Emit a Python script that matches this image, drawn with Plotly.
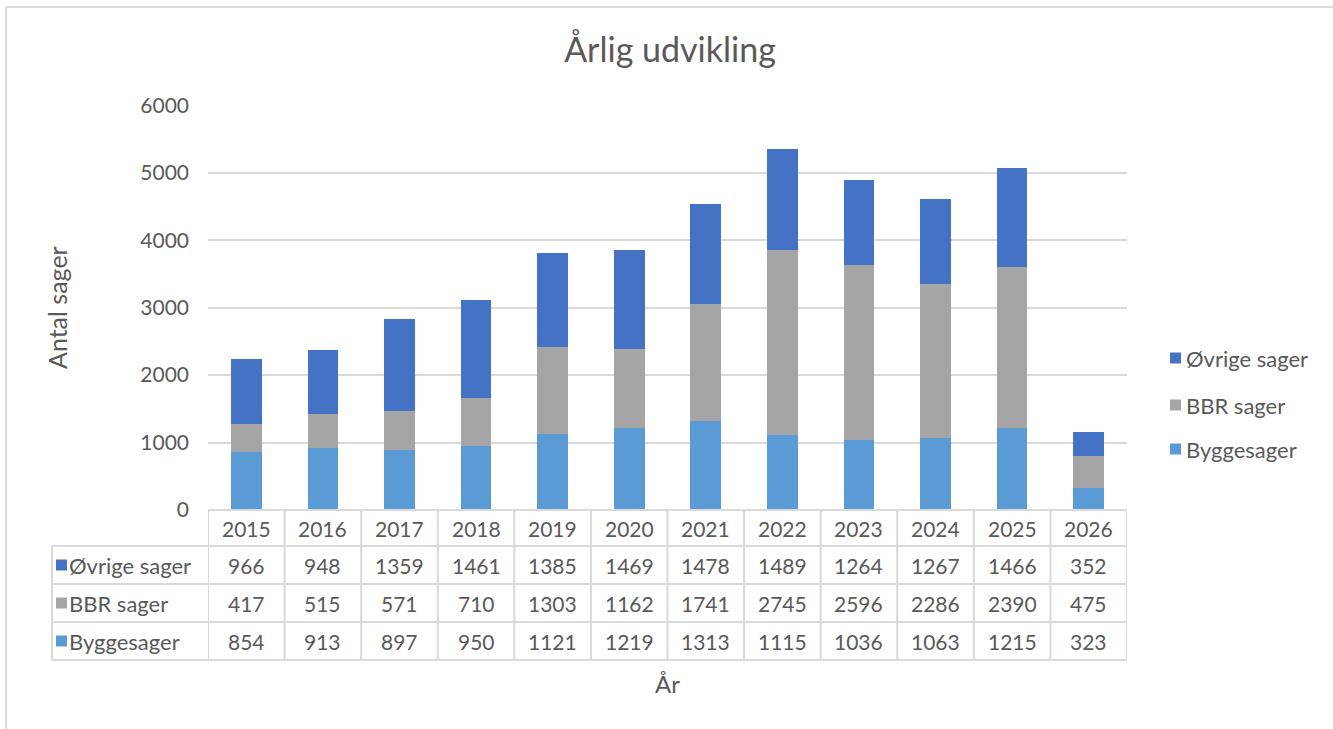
import plotly.graph_objects as go

years = ["2015", "2016", "2017", "2018", "2019", "2020", "2021", "2022", "2023", "2024", "2025", "2026"]
byggesager = [854, 913, 897, 950, 1121, 1219, 1313, 1115, 1036, 1063, 1215, 323]
bbr_sager = [417, 515, 571, 710, 1303, 1162, 1741, 2745, 2596, 2286, 2390, 475]
ovrige_sager = [966, 948, 1359, 1461, 1385, 1469, 1478, 1489, 1264, 1267, 1466, 352]

series = [
    ("Byggesager", byggesager, "#5B9BD5"),
    ("BBR sager", bbr_sager, "#A5A5A5"),
    ("Øvrige sager", ovrige_sager, "#4472C4"),
]

W, H = 1333, 729
L, R, T, B = 208, 1127, 105, 510
pw, ph = R - L, B - T
FONT = "Lato"
TXT = "#595959"
GRID = "#D9D9D9"

def px(x):
    return (x - L) / pw

def py(y):
    return (B - y) / ph

fig = go.Figure()
for name, vals, col in series:
    fig.add_trace(go.Bar(x=years, y=vals, name=name, marker_color=col,
                         marker_line_width=0, showlegend=False))

shapes = []
annotations = []
n = len(years)
row_edges = [510, 546, 584, 622, 660]
line = dict(color=GRID, width=2)
shapes.append(dict(type="line", xref="paper", yref="paper", x0=0, x1=1, y0=py(510), y1=py(510), line=line))
for ye in row_edges[1:]:
    shapes.append(dict(type="line", xref="paper", yref="paper", x0=px(52), x1=1, y0=py(ye), y1=py(ye), line=line))
for k in range(n + 1):
    shapes.append(dict(type="line", xref="x", yref="paper", x0=k - 0.5, x1=k - 0.5,
                       y0=py(510), y1=py(660), line=line))
shapes.append(dict(type="line", xref="paper", yref="paper", x0=px(52), x1=px(52),
                   y0=py(546), y1=py(660), line=line))

NUM = 21
for i, yr in enumerate(years):
    annotations.append(dict(x=i, xref="x", y=py(528), yref="paper", text=yr, showarrow=False,
                            xanchor="center", yanchor="middle",
                            font=dict(family=FONT, size=NUM, color=TXT)))
table_rows = [("Øvrige sager", ovrige_sager, "#4472C4", 565),
              ("BBR sager", bbr_sager, "#A5A5A5", 603),
              ("Byggesager", byggesager, "#5B9BD5", 641)]
for name, vals, col, yc in table_rows:
    shapes.append(dict(type="rect", xref="paper", yref="paper", x0=px(56), x1=px(67),
                       y0=py(yc + 5.5), y1=py(yc - 5.5), fillcolor=col, line_width=0))
    annotations.append(dict(x=px(67), xref="paper", y=py(yc), yref="paper", text=name,
                            xanchor="left", yanchor="middle", showarrow=False,
                            font=dict(family=FONT, size=22, color=TXT)))
    for i, v in enumerate(vals):
        annotations.append(dict(x=i, xref="x", y=py(yc), yref="paper", text=str(v), showarrow=False,
                                xanchor="center", yanchor="middle",
                                font=dict(family=FONT, size=NUM, color=TXT)))

legend_rows = [("Øvrige sager", "#4472C4", 358),
               ("BBR sager", "#A5A5A5", 405),
               ("Byggesager", "#5B9BD5", 449)]
for name, col, yc in legend_rows:
    shapes.append(dict(type="rect", xref="paper", yref="paper", x0=px(1170), x1=px(1181),
                       y0=py(yc + 5.5), y1=py(yc - 5.5), fillcolor=col, line_width=0))
    annotations.append(dict(x=px(1184), xref="paper", y=py(yc), yref="paper", text=name,
                            xanchor="left", yanchor="middle", showarrow=False,
                            font=dict(family=FONT, size=22, color=TXT)))

annotations.append(dict(x=px(667), xref="paper", y=py(683), yref="paper", text="År", showarrow=False,
                        xanchor="center", yanchor="middle",
                        font=dict(family=FONT, size=24, color=TXT)))
annotations.append(dict(x=px(57), xref="paper", y=py(308), yref="paper", text="Antal sager", showarrow=False,
                        xanchor="center", yanchor="middle",
                        textangle=-90, font=dict(family=FONT, size=25, color=TXT)))

frame = dict(color="#DCDCDC", width=2)
shapes.append(dict(type="line", xref="paper", yref="paper", x0=px(6), x1=px(1340),
                   y0=py(7), y1=py(7), line=frame, layer="below"))
shapes.append(dict(type="line", xref="paper", yref="paper", x0=px(6), x1=px(6),
                   y0=py(7), y1=py(740), line=frame, layer="below"))

fig.update_layout(
    width=W, height=H,
    margin=dict(l=L, r=W - R, t=T, b=H - B),
    barmode="stack", bargap=0.6,
    paper_bgcolor="white", plot_bgcolor="white",
    title=dict(text="Årlig udvikling", x=670 / W, xanchor="center", y=1 - 50 / H, yanchor="middle",
               font=dict(family=FONT, size=34, color=TXT)),
    xaxis=dict(type="category", range=[-0.5, n - 0.5], showticklabels=False, showgrid=False,
               zeroline=False, showline=False, ticks=""),
    yaxis=dict(range=[0, 6005], tickvals=[0, 1000, 2000, 3000, 4000, 5000, 6000],
               showgrid=True, gridcolor=GRID, gridwidth=2,
               zeroline=False, showline=False, ticks="", ticklabelstandoff=18,
               tickfont=dict(family=FONT, size=21, color=TXT)),
    showlegend=False,
    shapes=shapes, annotations=annotations,
)

fig.write_html("out.html")
